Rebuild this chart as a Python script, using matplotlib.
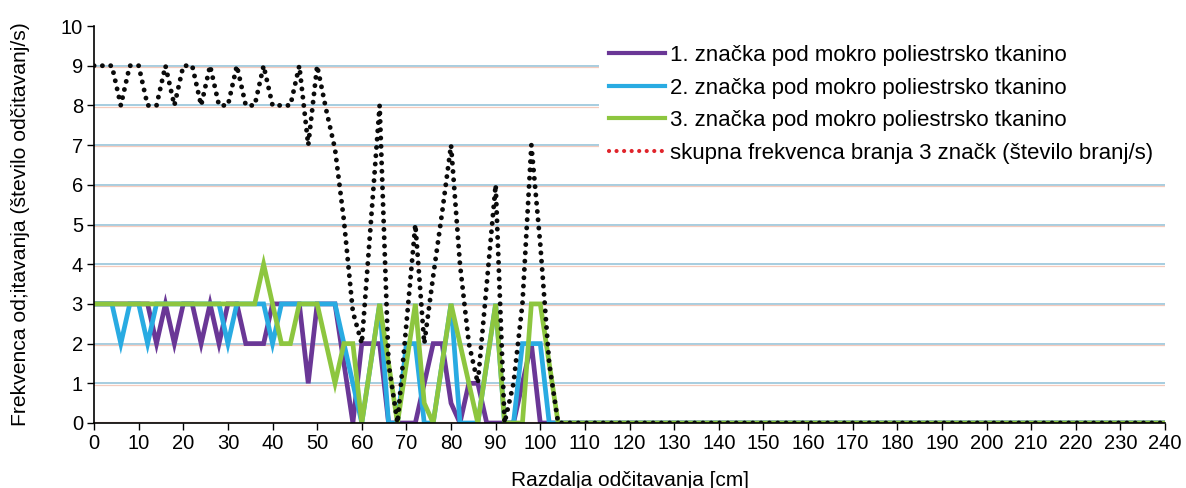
import numpy as np
import matplotlib.pyplot as plt
from matplotlib.lines import Line2D

plt.rcParams['font.family'] = ['Liberation Sans', 'DejaVu Sans']

# distance [cm], sampled every 2 cm
razdalja = np.arange(0, 242, 2)
tail = [0] * 68  # 106..240 cm, all readings are zero

znacka1 = [3, 3, 3, 3, 3, 3, 3, 2, 3, 2, 3, 3, 2, 3, 2, 3, 3, 2, 2, 2,
           3, 3, 3, 3, 1, 3, 3, 3, 1.5, 0, 2, 2, 2, 0, 0, 0, 0, 1, 2, 2,
           0.5, 0, 1, 1, 0, 0, 0, 0, 1, 2, 0, 0, 0] + tail
znacka2 = [3, 3, 3, 2, 3, 3, 2, 3, 3, 3, 3, 3, 3, 3, 3, 2, 3, 3, 3, 3,
           2, 3, 3, 3, 3, 3, 3, 3, 2, 1, 0, 1.5, 3, 0, 0, 2, 2, 0, 0, 1.5,
           3, 0, 0, 0, 1.5, 3, 0, 0, 2, 2, 2, 0, 0] + tail
znacka3 = [3, 3, 3, 3, 3, 3, 3, 3, 3, 3, 3, 3, 3, 3, 3, 3, 3, 3, 3, 4,
           3, 2, 2, 3, 3, 3, 2, 1, 2, 2, 0, 1.5, 3, 1.5, 0, 1.5, 3, 0.5, 0, 1.5,
           3, 2, 1, 0, 1.5, 3, 0, 0, 0, 3, 3, 1.5, 0] + tail
skupna = [9, 9, 9, 8, 9, 9, 8, 8, 9, 8, 9, 9, 8, 9, 8, 8, 9, 8, 8, 9,
          8, 8, 8, 9, 7, 9, 7.9, 6.9, 5.1, 2.8, 2, 5, 8, 1.5, 0, 2.5, 5, 2, 3.7, 5.3,
          7, 4, 2, 1, 3.5, 6, 0, 1, 3, 7, 4.5, 1.5, 0] + tail

labels = ['1. značka pod mokro poliestrsko tkanino',
          '2. značka pod mokro poliestrsko tkanino',
          '3. značka pod mokro poliestrsko tkanino',
          'skupna frekvenca branja 3 značk (število branj/s)']
colors = ['#6a3796', '#29abe2', '#8dc63f']

fig = plt.figure(figsize=(11.86, 4.88), dpi=100)
ax = fig.add_axes([0.0793, 0.1332, 0.9030, 0.8135])

# double grid lines: light blue with a faint salmon line just under it
for yv in range(0, 10):
    if yv > 0:
        ax.axhline(yv, color='#a6cde0', lw=1.4, zorder=0)
    ax.axhline(yv - 0.035 if yv > 0 else 0.03, color='#f4cbbd', lw=0.9, zorder=0)

for vals, c, lab in zip([znacka1, znacka2, znacka3], colors, labels[:3]):
    ax.plot(razdalja, vals, color=c, lw=3.4, label=lab, solid_joinstyle='miter', zorder=2)
ax.plot(razdalja, skupna, color='#0a0a0a', lw=3.5, linestyle=(0, (0.01, 1.7)),
        dash_capstyle='round', zorder=3)

ax.set_xlim(0, 240)
ax.set_ylim(0, 10)
ax.set_xticks(np.arange(0, 250, 10))
ax.set_yticks(np.arange(0, 11, 1))
ax.tick_params(labelsize=14.5, length=5, width=1, direction='out', pad=3)
for s in ['top', 'right']:
    ax.spines[s].set_visible(False)
ax.spines['left'].set_linewidth(1.2)
ax.spines['bottom'].set_linewidth(1.2)

ax.set_ylabel('Frekvenca od;itavanja (število odčitavanj/s)', fontsize=15.2, labelpad=22)
ax.set_xlabel('Razdalja odčitavanja [cm]', fontsize=15, labelpad=13)

handles = [Line2D([], [], color=c, lw=3) for c in colors]
handles.append(Line2D([], [], color='#e0242b', lw=3, linestyle=(0, (0.01, 1.8)),
                      dash_capstyle='round'))
leg = ax.legend(handles, labels, loc='upper left', bbox_to_anchor=(0.4715, 0.627, 0.5285, 0.35),
                mode='expand', fontsize=16, frameon=True, fancybox=False, borderpad=0.45,
                labelspacing=0.52, handlelength=2.5, handletextpad=0.25, borderaxespad=0)
leg.get_frame().set_edgecolor('none')
leg.get_frame().set_facecolor('white')
leg.get_frame().set_alpha(1)

plt.savefig('out.png', dpi=100)
